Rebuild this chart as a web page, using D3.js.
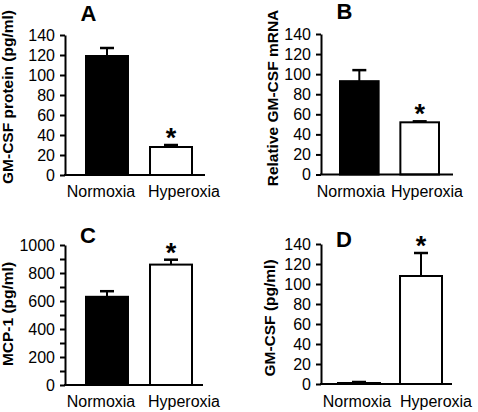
<!DOCTYPE html>
<html><head><meta charset="utf-8">
<script src="https://cdn.jsdelivr.net/npm/d3@7"></script>
<style>html,body{margin:0;padding:0;background:#fff}svg{display:block}</style>
</head><body><svg id="c" width="478" height="412"></svg>
<script>
// ---- data ----
const categories = ["Normoxia", "Hyperoxia"];
const panelLetters = ["A", "B", "C", "D"];
const yAxisTitles = ["GM-CSF protein (pg/ml)", "Relative GM-CSF mRNA", "MCP-1 (pg/ml)", "GM-CSF (pg/ml)"];
const meansA = [119, 28];  const errA = [8, 2];
const meansB = [93, 52];   const errB = [11, 1];
const meansC = [630, 860]; const errC = [40, 35];
const meansD = [1, 108];   const errD = [1, 23];
const significantA = [false, true];
const significantB = [false, true];
const significantC = [false, true];
const significantD = [false, true];
const yMaxes = [140, 140, 1000, 140];
const ticks140 = [0, 20, 40, 60, 80, 100, 120, 140];
const ticks1000 = [0, 200, 400, 600, 800, 1000];
const minorTicks1000 = [100, 300, 500, 700, 900];

// ---- layout (positions only) ----
const layout = [
  {ax: 65,  y0: 175, y1: 35,  xEnd: 205, bars: [86, 192],  pin: 0.344, labs: [101, 184], labY: 197, title: [88.5, 21],  yt: [13, 97]},
  {ax: 321, y0: 174.5, y1: 34, xEnd: 453, bars: [340, 439], pin: 0.36,  labs: [351, 427], labY: 197, title: [344.5, 19], yt: [278, 98]},
  {ax: 65,  y0: 385, y1: 245, xEnd: 203, bars: [86, 192],  pin: 0.344, labs: [101, 184], labY: 407, title: [88, 243],  yt: [13, 314]},
  {ax: 321, y0: 384, y1: 244, xEnd: 452, bars: [338, 442], pin: 0.323, labs: [357, 436], labY: 407, title: [344, 247], yt: [275, 318]}
];
const means = [meansA, meansB, meansC, meansD];
const errs = [errA, errB, errC, errD];
const sigs = [significantA, significantB, significantC, significantD];
const majorTicks = [ticks140, ticks140, ticks1000, ticks140];
const minorTicks = [[], [], minorTicks1000, []];
const fills = ["#000", "#fff"];

const svg = d3.select("#c");
const FONT = "Arial, 'Liberation Sans', Helvetica, sans-serif";

layout.forEach((L, i) => {
  const g = svg.append("g");
  const y = d3.scaleLinear().domain([0, yMaxes[i]]).range([L.y0, L.y1]);
  const x = d3.scaleBand().domain(categories).range(L.bars).paddingInner(L.pin).paddingOuter(0);
  const xl = d3.scalePoint().domain(categories).range(L.labs);

  // minor ticks
  const minorAxis = d3.axisLeft(y).tickValues(minorTicks[i]).tickSize(5).tickFormat("");
  g.append("g").attr("transform", `translate(${L.ax},0)`).call(minorAxis)
    .call(s => s.select(".domain").remove())
    .call(s => s.selectAll("line").attr("stroke", "#000").attr("stroke-width", 2));

  // y axis
  const yAxis = d3.axisLeft(y).tickValues(majorTicks[i]).tickSize(5).tickSizeOuter(0).tickPadding(5).tickFormat(d3.format("d"));
  g.append("g").attr("transform", `translate(${L.ax},0)`).call(yAxis)
    .call(s => s.select(".domain").attr("stroke", "#000").attr("stroke-width", 2))
    .call(s => s.selectAll("line").attr("stroke", "#000").attr("stroke-width", 2))
    .call(s => s.selectAll("text").attr("font-family", FONT).attr("font-size", 16).attr("fill", "#000"));

  // bars
  g.selectAll("rect.bar").data(categories).enter().append("rect")
    .attr("x", d => x(d)).attr("width", x.bandwidth())
    .attr("y", (d, j) => y(means[i][j])).attr("height", (d, j) => y(0) - y(means[i][j]))
    .attr("fill", (d, j) => fills[j]).attr("stroke", "#000").attr("stroke-width", 2);

  // error bars
  const cap = 14;
  categories.forEach((c, j) => {
    const cx = x(c) + x.bandwidth() / 2;
    const top = y(means[i][j] + errs[i][j]);
    g.append("line").attr("x1", cx).attr("x2", cx)
      .attr("y1", y(means[i][j])).attr("y2", top)
      .attr("stroke", "#000").attr("stroke-width", 2);
    g.append("line").attr("x1", cx - cap / 2).attr("x2", cx + cap / 2)
      .attr("y1", top).attr("y2", top)
      .attr("stroke", "#000").attr("stroke-width", 2.5);
    if (sigs[i][j]) {
      g.append("text").attr("x", cx).attr("y", top + 2)
        .attr("text-anchor", "middle").attr("font-family", FONT).attr("font-weight", "bold")
        .attr("font-size", 27).text("*");
    }
  });

  // x axis line
  g.append("line").attr("x1", L.ax - 1).attr("x2", L.xEnd).attr("y1", L.y0).attr("y2", L.y0)
    .attr("stroke", "#000").attr("stroke-width", 2);

  // x labels
  g.selectAll("text.xl").data(categories).enter().append("text")
    .attr("x", d => xl(d)).attr("y", L.labY).attr("text-anchor", "middle")
    .attr("font-family", FONT).attr("font-size", 16).text(d => d);

  // panel letter
  g.append("text").attr("x", L.title[0]).attr("y", L.title[1]).attr("text-anchor", "middle")
    .attr("font-family", FONT).attr("font-weight", "bold").attr("font-size", 22).text(panelLetters[i]);

  // y title
  g.append("text").attr("transform", `translate(${L.yt[0]},${L.yt[1]}) rotate(-90)`)
    .attr("text-anchor", "middle").attr("font-family", FONT).attr("font-weight", "bold")
    .attr("font-size", 15.5).text(yAxisTitles[i]);
});
</script></body></html>
